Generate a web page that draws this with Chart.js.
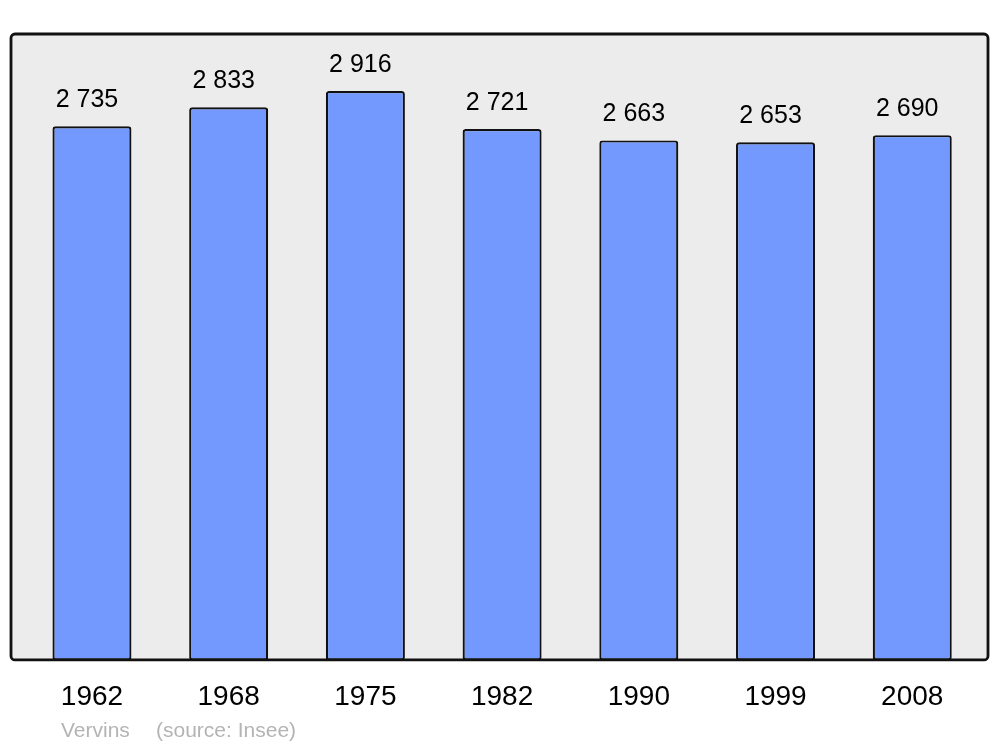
<!DOCTYPE html>
<html>
<head>
<meta charset="utf-8">
<script src="https://cdn.jsdelivr.net/npm/chart.js@4"></script>
<style>
  html, body { margin: 0; padding: 0; background: #ffffff; }
  #wrap { width: 1000px; height: 747px; }
</style>
</head>
<body>
<div id="wrap"><canvas id="pop-chart" width="1000" height="747"></canvas></div>
<script>
// Population data (Vervins, source: Insee)
const years = ['1962', '1968', '1975', '1982', '1990', '1999', '2008'];
const population = [2735, 2833, 2916, 2721, 2663, 2653, 2690];
const townName = 'Vervins';
const sourceNote = '(source: Insee)';

// "2735" -> "2 735"
function formatNumber(n) {
    return String(n).replace(/\B(?=(\d{3})+(?!\d))/g, ' ');
}

// Grey frame behind the bars
function frameRect(chart) {
    const a = chart.chartArea;
    const x = a.left - 12.6, y = a.top;
    return { x: x, y: y, w: (a.right + 7.4) - x, h: (a.bottom - 0.5) - y };
}

const framePlugin = {
    id: 'frame',
    beforeDraw(chart) {
        const ctx = chart.ctx;
        const r = frameRect(chart);
        ctx.save();
        ctx.beginPath();
        ctx.roundRect(r.x, r.y, r.w, r.h, 4);
        ctx.fillStyle = '#ececec';
        ctx.fill();
        ctx.restore();
    },
    afterDatasetsDraw(chart) {
        const ctx = chart.ctx;
        const r = frameRect(chart);
        ctx.save();
        ctx.beginPath();
        ctx.roundRect(r.x, r.y, r.w, r.h, 4);
        ctx.lineWidth = 2.8;
        ctx.strokeStyle = '#111111';
        ctx.stroke();
        ctx.restore();
    }
};

// Value labels above bars + source line
const labelPlugin = {
    id: 'labels',
    afterDraw(chart) {
        const ctx = chart.ctx;
        const meta = chart.getDatasetMeta(0);
        ctx.save();
        ctx.font = '25px "Liberation Sans", Arial, sans-serif';
        ctx.fillStyle = '#000000';
        ctx.textAlign = 'center';
        ctx.textBaseline = 'alphabetic';
        meta.data.forEach((bar, i) => {
            ctx.fillText(formatNumber(population[i]), bar.x - 5, bar.y - 19);
        });
        ctx.font = '21px "Liberation Sans", Arial, sans-serif';
        ctx.fillStyle = '#b4b4b4';
        ctx.textAlign = 'left';
        ctx.fillText(townName, 61, 737);
        ctx.fillText(sourceNote, 156, 737);
        ctx.restore();
    }
};

const ctx = document.getElementById('pop-chart').getContext('2d');
const chart = new Chart(ctx, {
    type: 'bar',
    data: {
        labels: years,
        datasets: [{
            data: population,
            backgroundColor: '#7399ff',
            borderColor: '#111111',
            borderWidth: 2.2,
            borderRadius: 3,
            borderSkipped: false,
            barPercentage: 0.578,
            categoryPercentage: 1
        }]
    },
    options: {
        responsive: false,
        animation: false,
        layout: {
            padding: { left: 23.6, right: 19.4, top: 34, bottom: 13 }
        },
        plugins: {
            legend: { display: false },
            tooltip: { enabled: false }
        },
        scales: {
            x: {
                grid: { display: false, drawTicks: false },
                border: { display: false },
                ticks: {
                    color: '#000000',
                    padding: 20,
                    font: { family: '"Liberation Sans", Arial, sans-serif', size: 28 }
                }
            },
            y: {
                display: false,
                min: 0,
                max: 3208
            }
        }
    },
    plugins: [framePlugin, labelPlugin]
});
</script>
</body>
</html>
